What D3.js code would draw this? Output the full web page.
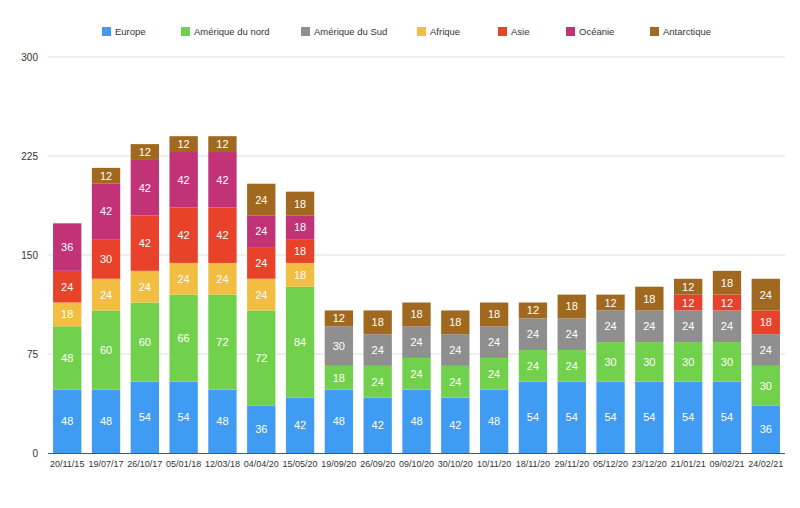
<!DOCTYPE html>
<html><head><meta charset="utf-8">
<script src="https://cdn.jsdelivr.net/npm/d3@7"></script>
<style>body{margin:0;background:#fff;font-family:"Helvetica Neue",Helvetica,Arial,"Liberation Sans",sans-serif;}</style>
</head><body><svg id="c" width="800" height="508"></svg>
<script>
const categories = ["20/11/15","19/07/17","26/10/17","05/01/18","12/03/18","04/04/20","15/05/20","19/09/20","26/09/20","09/10/20","30/10/20","10/11/20","18/11/20","29/11/20","05/12/20","23/12/20","21/01/21","09/02/21","24/02/21"];
const seriesNames = ["Europe","Amérique du nord","Amérique du Sud","Afrique","Asie","Océanie","Antarctique"];
const europe      = [48,48,54,54,48,36,42,48,42,48,42,48,54,54,54,54,54,54,36];
const ameriqueNord= [48,60,60,66,72,72,84,18,24,24,24,24,24,24,30,30,30,30,30];
const ameriqueSud = [0,0,0,0,0,0,0,30,24,24,24,24,24,24,24,24,24,24,24];
const afrique     = [18,24,24,24,24,24,18,0,0,0,0,0,0,0,0,0,0,0,0];
const asie        = [24,30,42,42,42,24,18,0,0,0,0,0,0,0,0,0,12,12,18];
const oceanie     = [36,42,42,42,42,24,18,0,0,0,0,0,0,0,0,0,0,0,0];
const antarctique = [0,12,12,12,12,24,18,12,18,18,18,18,12,18,12,18,12,18,24];
const yTicks = [0,75,150,225,300];
const colors = ["#3f9cf2","#72d14c","#8f8f8f","#f2be42","#e9422a","#c13277","#a0691f"];

const seriesData = [europe,ameriqueNord,ameriqueSud,afrique,asie,oceanie,antarctique];
const rows = categories.map((c,i)=>{const r={cat:c}; seriesNames.forEach((s,j)=>r[s]=seriesData[j][i]); return r;});
const stack = d3.stack().keys(seriesNames)(rows);

const svg = d3.select("#c");
const x = d3.scaleBand().domain(categories).range([48,785]).paddingInner(0.27).paddingOuter(0.13);
const y = d3.scaleLinear().domain([0,300]).range([453,57]);

// grid
svg.append("g").selectAll("line").data(yTicks.filter(t=>t>0)).join("line")
  .attr("x1",48).attr("x2",785).attr("y1",d=>y(d)).attr("y2",d=>y(d))
  .attr("stroke","#dedede").attr("stroke-width",1);
svg.append("g").selectAll("text").data(yTicks).join("text")
  .attr("x",38).attr("y",d=>y(d)+3.5).attr("text-anchor","end")
  .attr("font-size",10).attr("fill","#333").text(d=>d);

// bars
const g = svg.append("g");
stack.forEach((layer,j)=>{
  const gl = g.append("g");
  layer.forEach((d,i)=>{
    const v = d[1]-d[0];
    if(v<=0) return;
    gl.append("rect").attr("x",x(categories[i])).attr("width",x.bandwidth())
      .attr("y",y(d[1])).attr("height",y(d[0])-y(d[1])).attr("fill",colors[j]);
    gl.append("text").attr("x",x(categories[i])+x.bandwidth()/2)
      .attr("y",(y(d[0])+y(d[1]))/2+4).attr("text-anchor","middle")
      .attr("font-size",11).attr("fill","#fff").text(v);
  });
});

// baseline
svg.append("line").attr("x1",48).attr("x2",785).attr("y1",453.5).attr("y2",453.5).attr("stroke","#555").attr("stroke-width",1);
// x labels
svg.append("g").selectAll("text").data(categories).join("text")
  .attr("x",d=>x(d)+x.bandwidth()/2).attr("y",467).attr("text-anchor","middle")
  .attr("font-size",9).attr("fill","#333").text(d=>d);

// legend
const legX = [102,181,301,417,498,566,650];
const leg = svg.append("g");
seriesNames.forEach((s,j)=>{
  leg.append("rect").attr("x",legX[j]).attr("y",27).attr("width",9).attr("height",9).attr("fill",colors[j]);
  leg.append("text").attr("x",legX[j]+13).attr("y",35).attr("font-size",9.5).attr("fill","#333").text(s);
});
</script></body></html>
